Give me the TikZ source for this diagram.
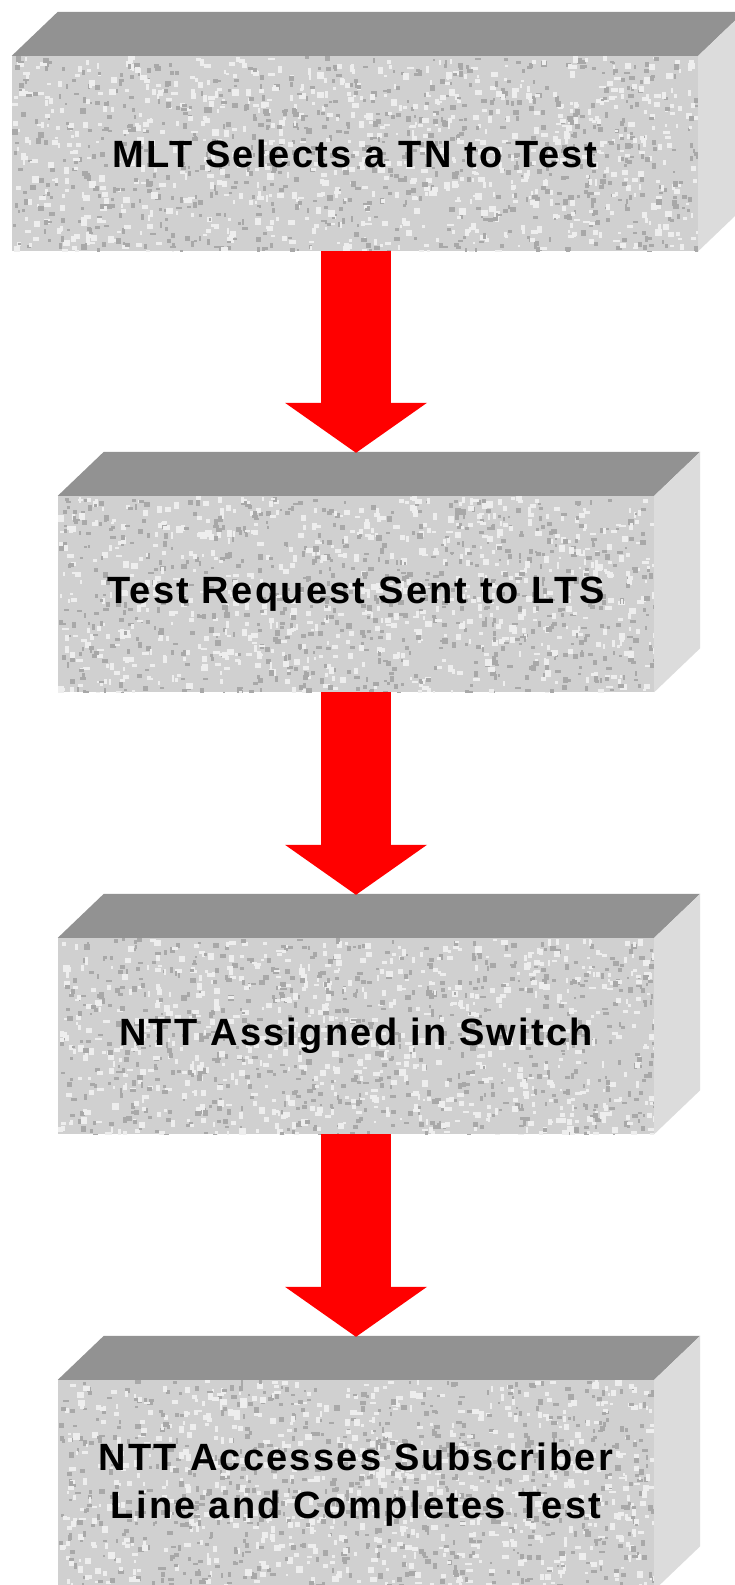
\documentclass[tikz,border=0pt]{standalone}
\usepackage{fontspec}
\newfontfamily\boxfont{Liberation Sans}[LetterSpace=6]
\usetikzlibrary{calc,arrows.meta}

\definecolor{topgray}{HTML}{929292}
\definecolor{sidegray}{HTML}{DCDCDC}
\definecolor{granite}{HTML}{D0D0D0}
\definecolor{speckdark}{HTML}{A8A8A8}
\definecolor{specklight}{HTML}{EEEEEE}
\definecolor{flowred}{HTML}{FF0000}

\tikzset{
  front/.style={fill=granite, inner sep=0pt, align=center, minimum height=196pt,
    font=\boxfont\bfseries\fontsize{38}{48}\selectfont,
    path picture={
      \foreach \k in {1,...,900}{
        \fill[speckdark] ($(path picture bounding box.north west)+(rnd*700,rnd*215)$) rectangle ++(2+rnd*4,2+rnd*4);
        \fill[specklight] ($(path picture bounding box.north west)+(rnd*700,rnd*215)$) rectangle ++(2+rnd*5,2+rnd*5);
      }}},
  flow/.style={flowred, line width=70pt, -{Triangle[width=142pt,length=50pt,line width=0pt]}}
}

\begin{document}
\begin{tikzpicture}[x=1pt,y=-1pt]
		\pgfmathsetseed{11}
		\useasboundingbox (0,0) rectangle (735,1585);
		\clip (0,0) rectangle (735,1585);
		\fill[white] (0,0) rectangle (735,1585);

		% front faces
		\node[front, minimum width=686pt, minimum height=195pt] (f1) at (355,153.5) {MLT Selects a TN to Test};
		\node[front, minimum width=596pt] (f2) at (356,594)  {Test Request Sent to LTS};
		\node[front, minimum width=596pt] (f3) at (356,1036) {NTT Assigned in Switch};
		\node[front, minimum width=596pt, minimum height=210pt] (f4) at (356,1485) {NTT Accesses Subscriber\\Line and Completes Test};

		% top and side faces
		\foreach \f in {f1,f2,f3,f4}{
			\fill[topgray] (\f.north west) -- ++(46,-44) -- ($(\f.north east)+(46,-44)$) -- (\f.north east) -- cycle;
			\fill[sidegray] (\f.north east) -- ++(46,-44) -- ($(\f.south east)+(46,-44)$) -- (\f.south east) -- cycle;
		}

		\coordinate (t2) at ($(f2.north)+(0,-43)$);
		\coordinate (t3) at ($(f3.north)+(0,-43)$);
		\coordinate (t4) at ($(f4.north)+(0,-43)$);

		\draw[flow] (f1.south -| t2) -- (t2);
		\draw[flow] (f2.south -| t3) -- (t3);
		\draw[flow] (f3.south -| t4) -- (t4);

	\end{tikzpicture}
\end{document}
